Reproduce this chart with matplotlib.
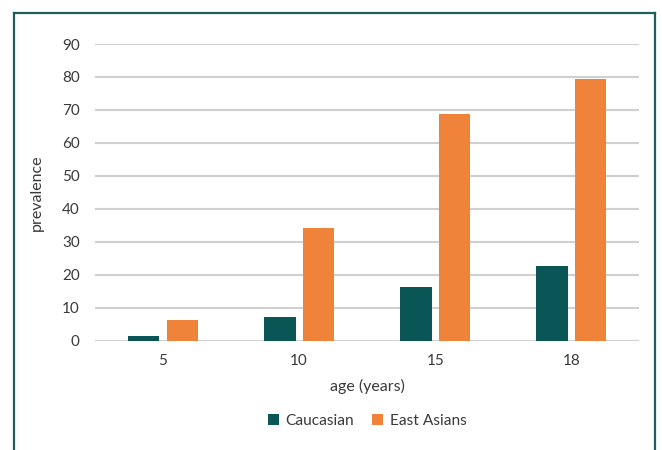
import numpy as np
import matplotlib
matplotlib.use('Agg')
from matplotlib import pyplot as plt
from matplotlib.lines import Line2D

plt.rcParams['font.family'] = ['Lato', 'DejaVu Sans']

# data
ages = ['5', '10', '15', '18']
caucasian = [1.4, 7.0, 16.2, 22.6]
east_asians = [6.3, 34.2, 68.7, 79.4]
series_names = ['Caucasian', 'East Asians']

teal = '#0a5556'
orange = '#f0833a'
text_col = '#3a3a3a'
grid_col = '#d0d0d0'

W, H = 662, 450
fig = plt.figure(figsize=(W / 100, H / 100), dpi=100)

# axes placed in pixel terms of the reference
left, right, top, bottom = 95, 639.3, 44, 340.5
ax = fig.add_axes([left / W, 1 - bottom / H, (right - left) / W, (bottom - top) / H])

x = np.arange(len(ages))
bw = 0.23
off = 0.141
ax.bar(x - off, caucasian, bw, color=teal, label=series_names[0], zorder=3)
ax.bar(x + off, east_asians, bw, color=orange, label=series_names[1], zorder=3)

ax.set_xlim(-0.5, len(ages) - 0.5)
ax.set_ylim(0, 90)
ax.set_yticks(np.arange(0, 91, 10))
ax.set_xticks(x)
ax.set_xticklabels(ages)

ax.grid(axis='y', color=grid_col, linewidth=1.5, zorder=0)
for s in ax.spines.values():
    s.set_visible(False)
ax.tick_params(axis='both', length=0, labelsize=11, labelcolor=text_col)
ax.tick_params(axis='y', pad=11)
ax.tick_params(axis='x', pad=10)

ax.set_xlabel('age (years)', fontsize=11.5, color=text_col)
ax.xaxis.set_label_coords(0.5, (bottom - 386) / (bottom - top))
ax.xaxis.label.set_verticalalignment('center')
ax.set_ylabel('prevalence', fontsize=11.5, color=text_col)
ax.yaxis.set_label_coords((37 - left) / (right - left), 0.5)
ax.yaxis.label.set_verticalalignment('center')

leg = ax.legend(loc='center', bbox_to_anchor=(0.5, (bottom - 421) / (bottom - top)),
                ncol=2, frameon=False, fontsize=11.2, handlelength=0.7, handleheight=0.7,
                handletextpad=0.4, columnspacing=1.2)
for t in leg.get_texts():
    t.set_color(text_col)

# open-bottomed teal frame around the chart
border = '#1d5f5f'
bx0, bx1, by = 14.3 / W, 655 / W, 1 - 13 / H
for xs, ys in [([bx0, bx0], [0, by]), ([bx0, bx1], [by, by]), ([bx1, bx1], [by, 0])]:
    fig.add_artist(Line2D(xs, ys, color=border, linewidth=1.6, solid_capstyle='projecting'))

fig.savefig('out.png', dpi=100)
